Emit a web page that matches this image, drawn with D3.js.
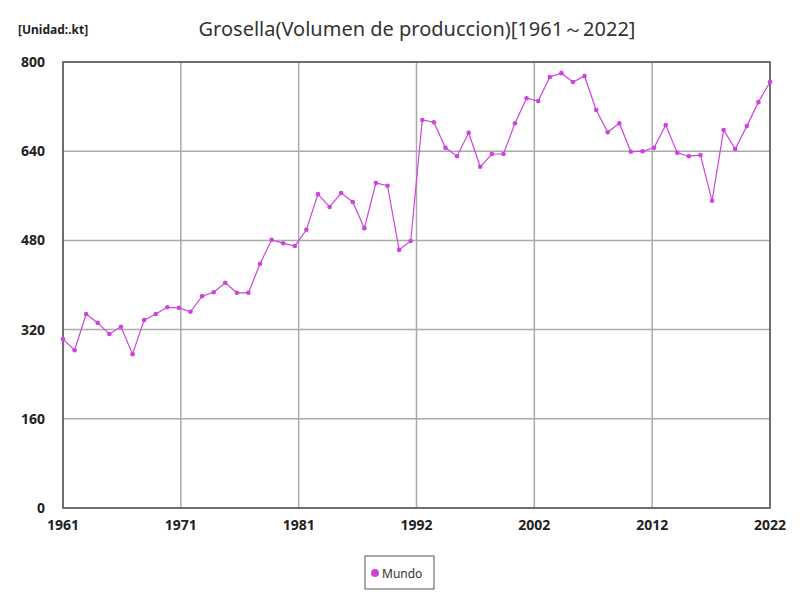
<!DOCTYPE html>
<html><head><meta charset="utf-8">
<script src="https://cdn.jsdelivr.net/npm/d3@7"></script>
<style>body{margin:0;background:#fff;font-family:"Noto Sans",sans-serif}</style></head>
<body><svg width="800" height="600"></svg>
<script>
const years = d3.range(1961, 2023);
const values = [303,283,348,332,312,325,276,337,348,360,359,352,380,387,404,386,386,438,481,475,470,499,563,540,565,549,502,583,578,463,479,696,692,646,631,673,612,635,635,690,735,730,773,780,764,775,714,674,690,639,640,646,687,637,631,633,551,678,644,685,728,764];
const xTickLabels = ["1961","1971","1981","1992","2002","2012","2022"];
const yTicks = [0,160,320,480,640,800];
const svg = d3.select("svg");
const m = {l:63, r:770, t:62, b:508};
const x = d3.scaleLinear().domain([1961,2022]).range([m.l,m.r]);
const y = d3.scaleLinear().domain([0,800]).range([m.b,m.t]);
const xTickPos = xTickLabels.map((d,i)=>1961 + i*(2022-1961)/6);
const g = svg.append("g");
g.selectAll(".gx").data(xTickPos).join("line").attr("x1",d=>x(d)).attr("x2",d=>x(d)).attr("y1",m.t).attr("y2",m.b).attr("stroke","#aaa").attr("stroke-width",1.5);
g.selectAll(".gy").data(yTicks).join("line").attr("y1",d=>y(d)).attr("y2",d=>y(d)).attr("x1",m.l).attr("x2",m.r).attr("stroke","#aaa").attr("stroke-width",1.5);
svg.append("rect").attr("x",m.l).attr("y",m.t).attr("width",m.r-m.l).attr("height",m.b-m.t).attr("fill","none").attr("stroke","#555").attr("stroke-width",1.5);
svg.selectAll(".xt").data(xTickLabels).join("text").attr("x",(d,i)=>x(xTickPos[i])).attr("y",530).attr("text-anchor","middle").attr("font-size",14).attr("font-weight","bold").attr("fill","#222").text(d=>d);
svg.selectAll(".yt").data(yTicks).join("text").attr("x",45).attr("y",d=>y(d)+5).attr("text-anchor","end").attr("font-size",14).attr("font-weight","bold").attr("fill","#222").text(d=>d);
svg.append("path").datum(values).attr("fill","none").attr("stroke","#cc44dd").attr("stroke-width",1.2)
  .attr("d",d3.line().x((d,i)=>x(years[i])).y(d=>y(d)));
svg.selectAll(".pt").data(values).join("circle").attr("cx",(d,i)=>x(years[i])).attr("cy",d=>y(d)).attr("r",2.3).attr("fill","#cc44dd");
svg.append("text").attr("x",417).attr("y",36).attr("text-anchor","middle").attr("font-size",20).attr("fill","#333").text("Grosella(Volumen de produccion)[1961～2022]");
svg.append("text").attr("x",18).attr("y",34).attr("font-size",12).attr("font-weight","bold").attr("fill","#222").text("[Unidad:.kt]");
svg.append("rect").attr("x",365).attr("y",556).attr("width",69).attr("height",33).attr("fill","#fff").attr("stroke","#555");
svg.append("circle").attr("cx",375).attr("cy",573).attr("r",4).attr("fill","#cc44dd");
svg.append("text").attr("x",382).attr("y",578).attr("font-size",12).attr("fill","#333").text("Mundo");
</script></body></html>
